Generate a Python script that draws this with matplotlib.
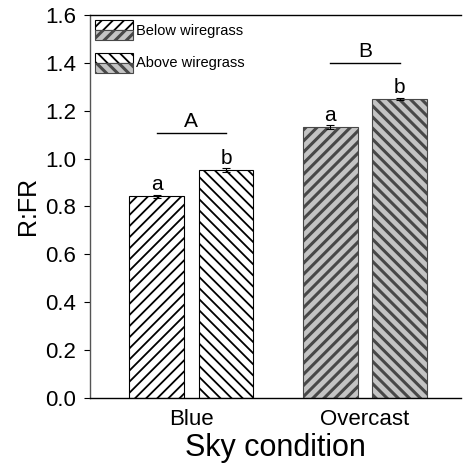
import numpy as np
import matplotlib
matplotlib.use("Agg")
import matplotlib.pyplot as plt
from matplotlib.patches import Rectangle, Patch

plt.rcParams['font.family'] = ['Liberation Sans', 'DejaVu Sans']

# data
sky = ['Blue', 'Overcast']
positions = ['Below wiregrass', 'Above wiregrass']
below = [0.842, 1.131]
above = [0.951, 1.248]
below_err = [0.006, 0.008]
above_err = [0.008, 0.005]
pair_letters = [['a', 'b'], ['a', 'b']]
group_letters = ['A', 'B']
group_line_y = [1.106, 1.399]

# styles: fill by sky condition, hatch direction by position
fills = ['white', '#c4c4c4']
edges = ['black', '#484848']
hatch_lw = [1.3, 2.2]
hatches = ['///', '\\\\\\']

x = np.arange(len(sky))
w = 0.314
off = 0.2


def set_hlw(patch, lw):
    if hasattr(patch, 'set_hatch_linewidth'):
        patch.set_hatch_linewidth(lw)


fig = plt.figure(figsize=(4.64, 4.68), dpi=100)
ax = fig.add_axes([0.194, 0.150, 0.80, 0.818])

for i in range(len(sky)):
    plt.rcParams['hatch.linewidth'] = hatch_lw[i]
    b1 = ax.bar(x[i] - off, below[i], w, color=fills[i], edgecolor=edges[i],
                hatch=hatches[0], linewidth=0.8, zorder=2)
    b2 = ax.bar(x[i] + off, above[i], w, color=fills[i], edgecolor=edges[i],
                hatch=hatches[1], linewidth=0.8, zorder=2)
    for p in list(b1) + list(b2):
        set_hlw(p, hatch_lw[i])
    ax.errorbar(x[i] - off, below[i], yerr=below_err[i], fmt='none',
                ecolor='black', capsize=3, elinewidth=0.8, capthick=0.8, zorder=3)
    ax.errorbar(x[i] + off, above[i], yerr=above_err[i], fmt='none',
                ecolor='black', capsize=3, elinewidth=0.8, capthick=0.8, zorder=3)
    ax.text(x[i] - off, below[i] + below_err[i] + 0.003, pair_letters[i][0],
            ha='center', va='bottom', fontsize=15)
    ax.text(x[i] + off, above[i] + above_err[i] + 0.003, pair_letters[i][1],
            ha='center', va='bottom', fontsize=15)
    ax.plot([x[i] - 0.2, x[i] + 0.2], [group_line_y[i]] * 2, color='black', lw=1)
    ax.text(x[i], group_line_y[i] + 0.008, group_letters[i], ha='center',
            va='bottom', fontsize=15)


class StackHandler:
    def __init__(self, hatch):
        self.hatch = hatch

    def legend_artist(self, legend, orig_handle, fontsize, handlebox):
        x0, y0 = -handlebox.xdescent, -handlebox.ydescent
        wd, ht = handlebox.width, handlebox.height
        tr = handlebox.get_transform()
        top = Rectangle((x0, y0 + ht / 2), wd, ht / 2, facecolor=fills[0],
                        edgecolor=edges[0], hatch=self.hatch, lw=0.8, transform=tr)
        bot = Rectangle((x0, y0), wd, ht / 2, facecolor=fills[1],
                        edgecolor=edges[1], hatch=self.hatch, lw=0.8, transform=tr)
        set_hlw(top, hatch_lw[0])
        set_hlw(bot, hatch_lw[1])
        handlebox.add_artist(top)
        handlebox.add_artist(bot)
        return top


h_below = Patch(label=positions[0])
h_above = Patch(label=positions[1])
ax.legend(handles=[h_below, h_above],
          handler_map={h_below: StackHandler(hatches[0]), h_above: StackHandler(hatches[1])},
          loc='upper left', frameon=False, fontsize=10.5, handlelength=2.6,
          handleheight=1.7, labelspacing=0.9, handletextpad=0.2,
          borderaxespad=0.1, borderpad=0.25)

ax.set_xlim(-0.583, 1.554)
ax.set_ylim(0, 1.6)
ax.set_yticks(np.arange(0, 1.61, 0.2))
ax.set_yticklabels([f'{v:.1f}' for v in np.arange(0, 1.61, 0.2)], fontsize=16)
ax.set_xticks(x)
ax.set_xticklabels(sky, fontsize=16)
ax.tick_params(axis='x', length=0, pad=8)
ax.tick_params(axis='y', direction='out', length=4, width=0.8, pad=6)
ax.spines['right'].set_visible(False)
for s in ['left', 'bottom', 'top']:
    ax.spines[s].set_linewidth(1.0)
ax.spines['left'].set_color('#555555')
ax.set_ylabel('R:FR', fontsize=18, labelpad=4)
ax.set_xlabel('Sky condition', fontsize=22, labelpad=2)

fig.savefig('out.png', dpi=100)
